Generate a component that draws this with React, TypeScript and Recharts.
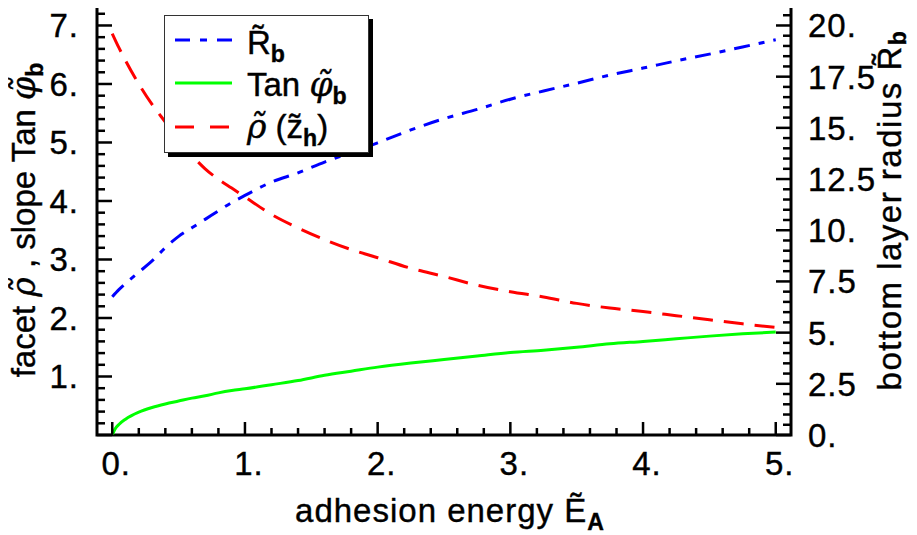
import { LineChart, Line, XAxis, YAxis, ReferenceArea, Legend, Label } from "recharts";

// adhesion energy samples and the three curves read along them
const energyRho = [0, 0.05, 0.1, 0.2, 0.3, 0.4, 0.5, 0.6, 0.7, 0.8, 0.9, 1.0, 1.2, 1.4, 1.6, 1.8, 2.0, 2.25, 2.5, 2.75, 3.0, 3.25, 3.5, 3.75, 4.0, 4.25, 4.5, 4.75, 5.0];
const rhoValues = [6.86, 6.62, 6.4, 6.0, 5.65, 5.35, 5.05, 4.78, 4.55, 4.37, 4.22, 4.07, 3.77, 3.54, 3.34, 3.17, 3.03, 2.85, 2.71, 2.56, 2.45, 2.36, 2.25, 2.17, 2.11, 2.04, 1.97, 1.9, 1.84];

const energyRadius = [0, 0.05, 0.1, 0.2, 0.3, 0.4, 0.5, 0.6, 0.7, 0.8, 0.9, 1.0, 1.2, 1.4, 1.6, 1.8, 2.0, 2.25, 2.5, 2.75, 3.0, 3.25, 3.5, 3.75, 4.0, 4.25, 4.5, 4.75, 5.0];
const radiusValues = [6.75, 7.1, 7.4, 7.95, 8.5, 9.15, 9.7, 10.12, 10.53, 10.95, 11.35, 11.7, 12.35, 12.8, 13.33, 13.8, 14.27, 14.9, 15.45, 15.9, 16.4, 16.8, 17.18, 17.58, 17.92, 18.27, 18.6, 18.95, 19.3];

const energySlope = [0, 0.02, 0.05, 0.1, 0.2, 0.3, 0.4, 0.5, 0.6, 0.7, 0.8, 0.9, 1.0, 1.2, 1.4, 1.6, 1.8, 2.0, 2.25, 2.5, 2.75, 3.0, 3.25, 3.5, 3.75, 4.0, 4.25, 4.5, 4.75, 5.0];
const slopeValues = [0, 0.1, 0.18, 0.27, 0.39, 0.47, 0.53, 0.58, 0.63, 0.67, 0.72, 0.76, 0.79, 0.86, 0.93, 1.02, 1.09, 1.16, 1.23, 1.29, 1.35, 1.41, 1.45, 1.5, 1.56, 1.6, 1.645, 1.69, 1.73, 1.76];

// labelled tick values
const xLabels = [0, 1, 2, 3, 4, 5];
const leftLabels = [1, 2, 3, 4, 5, 6, 7];
const rightLabels = [0, 2.5, 5, 7.5, 10, 12.5, 15, 17.5, 20];

const X_DOMAIN: [number, number] = [-0.115, 5.115];
const LEFT_DOMAIN: [number, number] = [0, 7.35];
const RIGHT_DOMAIN: [number, number] = [0, 21];

const steps = (from: number, to: number, step: number) => {
  const out: number[] = [];
  for (let v = from; v <= to + 1e-9; v += step) out.push(Math.round(v * 100) / 100);
  return out;
};
const xTicks = steps(0, 5, 0.2);
const leftTicks = steps(0, 7.2, 0.2);
const rightTicks = steps(0, 20.5, 0.5);

const rhoData = energyRho.map((x, i) => ({ x, rho: rhoValues[i] }));
const radiusData = energyRadius.map((x, i) => ({ x, radius: radiusValues[i] }));
const slopeData = energySlope.map((x, i) => ({ x, slope: slopeValues[i] }));

const FONT = "'Liberation Sans', Arial, Helvetica, sans-serif";
const GREEK = "'DejaVu Serif', 'Liberation Serif', serif";
const FS = 33;

// shared look of every text: slightly heavy, like the plot's type
const textStyle = {
  fontFamily: FONT,
  fontSize: FS,
  fill: "#000",
  stroke: "#000",
  strokeWidth: 0.4,
};

const fmt = (v: number) => (Number.isInteger(v) ? `${v}.` : `${v}`);

const Sub = ({ children, dy = 8 }: { children: string; dy?: number }) => (
  <tspan fontWeight="bold" fontSize="0.7em" dy={dy}>{children}</tspan>
);
const Greek = ({ children }: { children: string }) => (
  <tspan fontFamily={GREEK} fontStyle="italic">{children}</tspan>
);

const BottomTick = (props: any) => {
  const { x, y, payload } = props;
  const major = xLabels.includes(payload.value);
  return (
    <g>
      <line x1={x} x2={x} y1={y} y2={y - (major ? 13 : 7)} stroke="#000" strokeWidth={2.5} />
      {major && (
        <text x={x + 4} y={y + 40} textAnchor="middle" letterSpacing={1} {...textStyle}>
          {fmt(payload.value)}
        </text>
      )}
    </g>
  );
};

const LeftTick = (props: any) => {
  const { x, y, payload } = props;
  const major = Number.isInteger(payload.value);
  return (
    <g>
      <line x1={x} x2={x + (major ? 15 : 8)} y1={y} y2={y} stroke="#000" strokeWidth={2.5} />
      {leftLabels.includes(payload.value) && (
        <text x={x - 18} y={y + 12} textAnchor="end" letterSpacing={1} {...textStyle}>
          {fmt(payload.value)}
        </text>
      )}
    </g>
  );
};

const RightTick = (props: any) => {
  const { x, y, payload } = props;
  const major = rightLabels.includes(payload.value);
  return (
    <g>
      <line x1={x} x2={x - (major ? 15 : 8)} y1={y} y2={y} stroke="#000" strokeWidth={2.5} />
      {major && (
        <text x={x + 17} y={y + 12} textAnchor="start" letterSpacing={1} {...textStyle}>
          {fmt(payload.value)}
        </text>
      )}
    </g>
  );
};

const BLUE_DASH = "16 9 6 9";
const RED_DASH = "20 11";

const LegendBox = () => (
  <svg width={214} height={146} style={{ display: "block" }}>
    <rect x={4} y={4} width={205} height={138} fill="#000" />
    <rect x={0.5} y={0.5} width={204} height={137} fill="#fff" stroke="#333" strokeWidth={1} />
    <line x1={11} x2={68} y1={25} y2={25} stroke="#0000ff" strokeWidth={3} strokeDasharray="15 10 7 10" />
    <line x1={11} x2={68} y1={68} y2={68} stroke="#00ff00" strokeWidth={3} />
    <line x1={11} x2={68} y1={112} y2={112} stroke="#ff0000" strokeWidth={3} strokeDasharray="19 16" />
    <text x={83} y={39} {...textStyle}>
      R{"\u0303"}<Sub>b</Sub>
    </text>
    <text x={83} y={81} {...textStyle}>
      Tan <Greek>{"\u03c6\u0303"}</Greek><Sub>b</Sub>
    </text>
    <text x={83} y={123} {...textStyle}>
      <Greek>{"\u03c1\u0303"}</Greek> (z{"\u0303"}<Sub>h</Sub><tspan dy={-8}>)</tspan>
    </text>
  </svg>
);

export default function App() {
  return (
    <div style={{ marginTop: -8, marginLeft: -8, width: 917, height: 535, background: "#fff" }}>
      <LineChart width={917} height={535} margin={{ top: 5, right: 56, bottom: 40, left: 37 }}>
        <XAxis
          type="number"
          dataKey="x"
          domain={X_DOMAIN}
          allowDataOverflow
          ticks={xTicks}
          interval={0}
          height={60}
          axisLine={false}
          tickLine={false}
          tickSize={0}
          tickMargin={0}
          tick={<BottomTick />}
        >
          <Label
            content={() => (
              <text x={450} y={522} textAnchor="middle" letterSpacing={1} {...textStyle}>
                adhesion energy {"\u1ebc"}<Sub>A</Sub>
              </text>
            )}
          />
        </XAxis>
        <YAxis
          yAxisId="left"
          type="number"
          domain={LEFT_DOMAIN}
          allowDataOverflow
          ticks={leftTicks}
          interval={0}
          width={60}
          axisLine={false}
          tickLine={false}
          tickSize={0}
          tickMargin={0}
          tick={<LeftTick />}
        >
          <Label
            content={() => (
              <text transform="translate(35,220) rotate(-90)" textAnchor="middle" {...textStyle}>
                facet <Greek>{"\u03c1\u0303"}</Greek> , slope Tan <Greek>{"\u03c6\u0303"}</Greek><Sub>b</Sub>
              </text>
            )}
          />
        </YAxis>
        <YAxis
          yAxisId="right"
          orientation="right"
          type="number"
          domain={RIGHT_DOMAIN}
          allowDataOverflow
          ticks={rightTicks}
          interval={0}
          width={70}
          axisLine={false}
          tickLine={false}
          tickSize={0}
          tickMargin={0}
          tick={<RightTick />}
        >
          <Label
            content={() => (
              <text transform="translate(901,210) rotate(-90)" textAnchor="middle" letterSpacing={1.5} {...textStyle}>
                bottom layer radius R{"\u0303"}<Sub dy={5}>b</Sub>
              </text>
            )}
          />
        </YAxis>
        <ReferenceArea
          yAxisId="left"
          x1={X_DOMAIN[0]}
          x2={X_DOMAIN[1]}
          y1={LEFT_DOMAIN[0]}
          y2={LEFT_DOMAIN[1]}
          fill="none"
          fillOpacity={0}
          stroke="#000"
          strokeWidth={3}
          ifOverflow="visible"
        />
        <Line
          yAxisId="right"
          data={radiusData}
          dataKey="radius"
          type="monotone"
          stroke="#0000ff"
          strokeWidth={3}
          strokeDasharray={BLUE_DASH}
          dot={false}
          isAnimationActive={false}
        />
        <Line
          yAxisId="left"
          data={slopeData}
          dataKey="slope"
          type="monotone"
          stroke="#00ff00"
          strokeWidth={3}
          dot={false}
          isAnimationActive={false}
        />
        <Line
          yAxisId="left"
          data={rhoData}
          dataKey="rho"
          type="monotone"
          stroke="#ff0000"
          strokeWidth={3}
          strokeDasharray={RED_DASH}
          dot={false}
          isAnimationActive={false}
        />
        <Legend
          layout="vertical"
          align="center"
          verticalAlign="middle"
          content={() => <LegendBox />}
          wrapperStyle={{ left: 164, top: 15, width: 214, height: 146 }}
        />
      </LineChart>
    </div>
  );
}
